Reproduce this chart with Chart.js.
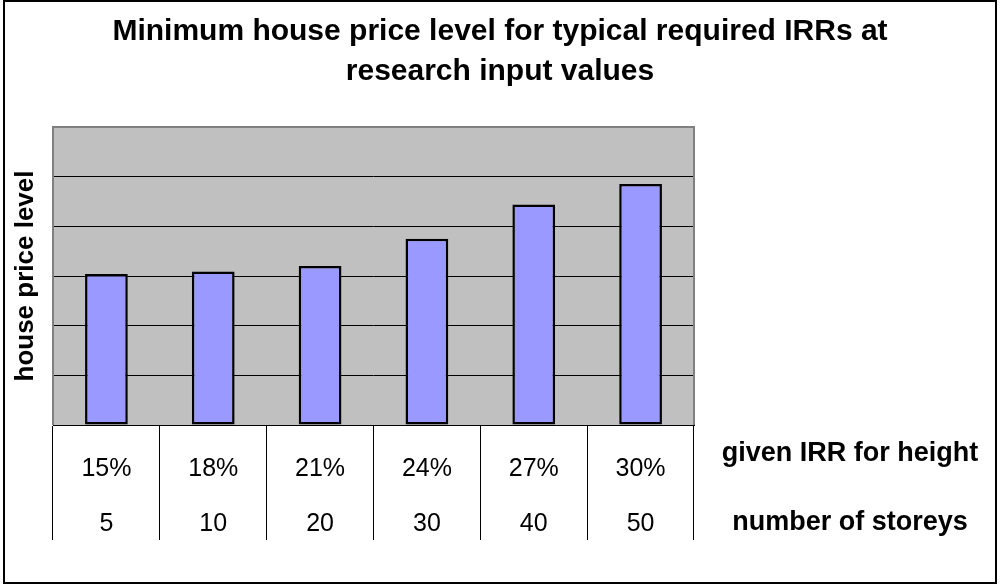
<!DOCTYPE html>
<html>
<head>
<meta charset="utf-8">
<script src="https://cdn.jsdelivr.net/npm/chart.js@4/dist/chart.umd.min.js"></script>
<style>
  html, body { margin: 0; padding: 0; background: #fff; }
  #wrap { width: 1000px; height: 584px; }
</style>
</head>
<body>
<div id="wrap"><canvas id="myChart" width="1000" height="584"></canvas></div>
<script>
const irrLabels = ['15%', '18%', '21%', '24%', '27%', '30%'];
const storeyLabels = ['5', '10', '20', '30', '40', '50'];
const priceLevels = [3.04, 3.09, 3.2, 3.75, 4.44, 4.85];
const rowLabels = ['given IRR for height', 'number of storeys'];
const titleLines = ['Minimum house price level for typical required IRRs at', 'research input values'];
const yTitle = 'house price level';

const FONT = "'Liberation Sans', Arial, Helvetica, sans-serif";

// each category gets two label lines: IRR on top, storeys below
const labels = irrLabels.map((irr, i) => [irr, storeyLabels[i]]);

// grey plot background, outer frame and the right hand row titles
const decor = {
  id: 'decor',
  beforeDraw(chart) {
    const { ctx, chartArea: a } = chart;
    ctx.save();
    ctx.fillStyle = '#fff';
    ctx.fillRect(0, 0, chart.width, chart.height);
    ctx.strokeStyle = '#000';
    ctx.lineWidth = 2;
    ctx.strokeRect(4, 1, 992, 582);
    ctx.fillStyle = '#c0c0c0';
    ctx.fillRect(a.left, a.top, a.right - a.left, a.bottom - a.top);
    ctx.restore();
  },
  beforeDatasetsDraw(chart) {
    const { ctx, chartArea: a } = chart;
    ctx.save();
    ctx.strokeStyle = '#808080';
    ctx.lineWidth = 2;
    ctx.beginPath();
    ctx.moveTo(a.left, a.bottom);
    ctx.lineTo(a.left, a.top);
    ctx.lineTo(a.right, a.top);
    ctx.lineTo(a.right, a.bottom);
    ctx.stroke();
    ctx.restore();
  },
  afterDraw(chart) {
    const { ctx, chartArea: a } = chart;
    const cx = (a.right + chart.width) / 2 + 3;
    ctx.save();
    ctx.fillStyle = '#000';
    ctx.font = 'bold 27px ' + FONT;
    ctx.textAlign = 'center';
    ctx.textBaseline = 'middle';
    ctx.fillText(rowLabels[0], cx, a.bottom + 29);
    ctx.fillText(rowLabels[1], cx, a.bottom + 98);
    ctx.restore();
  }
};

const ctx = document.getElementById('myChart').getContext('2d');

const data = {
  labels: labels,
  datasets: [{
    data: priceLevels,
    backgroundColor: '#9999ff',
    borderColor: '#000',
    borderWidth: 2.5,
    borderSkipped: false,
    barPercentage: 0.4,
    categoryPercentage: 1
  }]
};

const config = {
  type: 'bar',
  data: data,
  plugins: [decor],
  options: {
    responsive: false,
    animation: false,
    layout: { padding: 0 },
    plugins: {
      legend: { display: false },
      tooltip: { enabled: false },
      title: {
        display: true,
        text: titleLines,
        color: '#000',
        font: { family: FONT, size: 30, weight: 'bold', lineHeight: 40 / 30 },
        padding: { top: 12, bottom: 35 }
      }
    },
    scales: {
      x: {
        afterFit: (s) => { s.height = 159 },
        grid: {
          offset: true,
          drawOnChartArea: false,
          drawTicks: true,
          tickLength: 115,
          color: '#000',
          lineWidth: 1
        },
        border: { display: true, color: '#000', width: 1 },
        ticks: {
          color: '#000',
          autoSkip: false,
          maxRotation: 0,
          minRotation: 0,
          padding: -98,
          font: { family: FONT, size: 25, lineHeight: 2.2 }
        }
      },
      y: {
        min: 0,
        max: 6,
        afterFit: (s) => { s.width = 53 },
        ticks: { display: false, stepSize: 1 },
        grid: {
          drawTicks: false,
          color: (c) => c.tick && c.tick.value === 6 ? 'rgba(0,0,0,0)' : '#000',
          lineWidth: 1
        },
        border: { display: false },
        title: {
          display: true,
          text: yTitle,
          color: '#000',
          font: { family: FONT, size: 26, weight: 'bold', lineHeight: 1.2 },
          padding: { top: 10, bottom: 0 }
        }
      },
      // empty axis on the right, keeps room for the row titles
      side: {
        type: 'linear',
        position: 'right',
        afterFit: (s) => { s.width = 306 },
        ticks: { display: false },
        grid: { display: false },
        border: { display: false }
      }
    }
  }
};

const myChart = new Chart(ctx, config);
</script>
</body>
</html>
